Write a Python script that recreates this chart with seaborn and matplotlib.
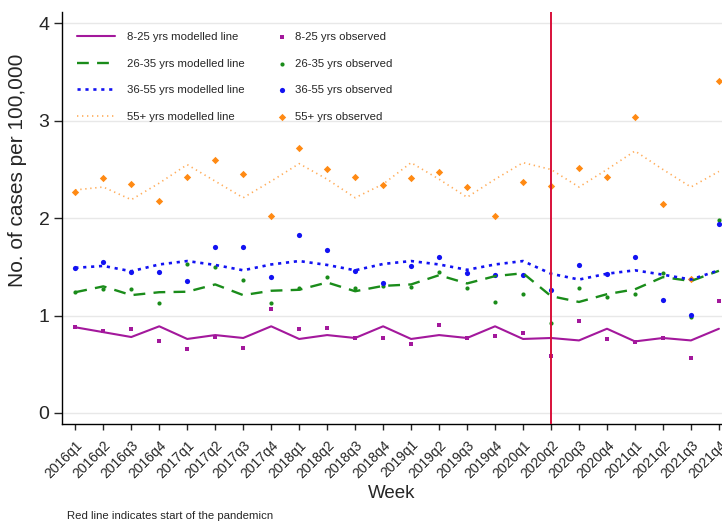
import matplotlib
matplotlib.use('Agg')
import matplotlib.pyplot as plt
import seaborn as sns
import numpy as np
import pandas as pd

quarters = ['2016q1', '2016q2', '2016q3', '2016q4', '2017q1', '2017q2', '2017q3', '2017q4',
            '2018q1', '2018q2', '2018q3', '2018q4', '2019q1', '2019q2', '2019q3', '2019q4',
            '2020q1', '2020q2', '2020q3', '2020q4', '2021q1', '2021q2', '2021q3', '2021q4']

groups = ['8-25 yrs', '26-35 yrs', '36-55 yrs', '55+ yrs']

# modelled lines
mod_8_25 = [0.88, 0.83, 0.78, 0.89, 0.76, 0.80, 0.77, 0.89, 0.76, 0.80, 0.77, 0.89,
            0.76, 0.80, 0.77, 0.89, 0.76, 0.77, 0.745, 0.865, 0.735, 0.77, 0.745, 0.865]
mod_26_35 = [1.24, 1.30, 1.21, 1.24, 1.245, 1.32, 1.21, 1.255, 1.265, 1.34, 1.25, 1.305,
             1.32, 1.415, 1.33, 1.405, 1.435, 1.20, 1.14, 1.22, 1.27, 1.395, 1.355, 1.46]
mod_36_55 = [1.49, 1.51, 1.455, 1.525, 1.56, 1.52, 1.465, 1.525, 1.56, 1.52, 1.465, 1.53,
             1.56, 1.525, 1.47, 1.525, 1.56, 1.43, 1.37, 1.43, 1.465, 1.42, 1.37, 1.465]
mod_55 = [2.29, 2.32, 2.19, 2.36, 2.55, 2.38, 2.21, 2.38, 2.56, 2.40, 2.21, 2.35,
          2.57, 2.40, 2.215, 2.40, 2.57, 2.50, 2.32, 2.50, 2.69, 2.50, 2.32, 2.48]

# observed points
obs_8_25 = [0.88, 0.84, 0.86, 0.74, 0.66, 0.78, 0.67, 1.07, 0.86, 0.875, 0.77, 0.77,
            0.71, 0.905, 0.77, 0.79, 0.82, 0.59, 0.94, 0.76, 0.73, 0.77, 0.56, 1.15]
obs_26_35 = [1.24, 1.275, 1.275, 1.125, 1.53, 1.50, 1.37, 1.125, 1.285, 1.40, 1.285, 1.30,
             1.29, 1.45, 1.285, 1.14, 1.22, 0.92, 1.28, 1.19, 1.22, 1.44, 0.99, 1.985]
obs_36_55 = [1.49, 1.55, 1.45, 1.446, 1.357, 1.70, 1.70, 1.395, 1.825, 1.67, 1.455, 1.33,
             1.505, 1.60, 1.44, 1.415, 1.415, 1.26, 1.52, 1.43, 1.605, 1.155, 1.01, 1.945]
obs_55 = [2.27, 2.41, 2.355, 2.175, 2.42, 2.595, 2.455, 2.02, 2.72, 2.505, 2.42, 2.34,
          2.415, 2.47, 2.32, 2.025, 2.37, 2.335, 2.52, 2.42, 3.04, 2.15, 1.375, 3.41]

pandemic_start = '2020q2'

colors = ['#a3189c', '#1a8c1a', '#1212f2', '#ff8a14']
mod_all = [mod_8_25, mod_26_35, mod_36_55, mod_55]
obs_all = [obs_8_25, obs_26_35, obs_36_55, obs_55]

rows = []
for g, m, o in zip(groups, mod_all, obs_all):
    for i, q in enumerate(quarters):
        rows.append({'group': g, 'idx': i, 'quarter': q, 'modelled': m[i], 'observed': o[i]})
df = pd.DataFrame(rows)

sns.set_style('white')
plt.rcParams['font.family'] = ['Liberation Sans', 'DejaVu Sans']

W, H = 722, 525
fig = plt.figure(figsize=(W / 100, H / 100), dpi=100)
ax = fig.add_axes([62 / W, 1 - 424 / H, 660 / W, (424 - 11.7) / H])

line_styles = [
    dict(linestyle='-', linewidth=1.5),
    dict(linestyle=(0, (5, 3.5)), linewidth=1.7),
    dict(linestyle=(0, (1.2, 1.8)), linewidth=1.9),
    dict(linestyle=(0, (0.8, 2.2)), linewidth=1.2, alpha=0.7),
]
marker_styles = [
    dict(marker='s', s=5),
    dict(marker='o', s=9),
    dict(marker='o', s=14),
    dict(marker='D', s=14),
]

for g, c, ls in zip(groups, colors, line_styles):
    sub = df[df['group'] == g]
    sns.lineplot(data=sub, x='idx', y='modelled', color=c, ax=ax,
                 label=f'{g} modelled line', **ls)
for g, c, ms in zip(groups, colors, marker_styles):
    sub = df[df['group'] == g]
    sns.scatterplot(data=sub, x='idx', y='observed', color=c, ax=ax, linewidth=0,
                    label=f'{g} observed', **ms)

ax.axvline(quarters.index(pandemic_start), color='#d8103a', linewidth=1.4, zorder=5)

ax.set_xlim(-0.475, 23.11)
ax.set_ylim(-0.113, 4.12)
ax.set_yticks([0, 1, 2, 3, 4])
ax.set_xticks(range(len(quarters)))
ax.set_xticklabels(quarters, rotation=45, ha='right', rotation_mode='anchor', fontsize=10)
ax.tick_params(axis='y', labelsize=14, length=6, width=1, left=True, direction='out', pad=3)
ax.tick_params(axis='x', length=4, width=1, bottom=True, direction='out', pad=6)
ax.yaxis.grid(True, color='#e8e8e8', linewidth=1)
ax.set_axisbelow(True)
for sp in ['top', 'right']:
    ax.spines[sp].set_visible(False)
for sp in ['left', 'bottom']:
    ax.spines[sp].set_color('black')
    ax.spines[sp].set_linewidth(1)

ax.set_xlabel('Week', fontsize=13.5)
ax.xaxis.set_label_coords(0.5, -0.148)
ax.set_ylabel('No. of cases per 100,000', fontsize=15)
ax.yaxis.set_label_coords(-0.053, 0.616)

handles, labels = ax.get_legend_handles_labels()
leg1 = ax.legend(handles[:4], labels[:4], loc='upper left',
                 bbox_to_anchor=(77 / W, 1 - 32 / H), bbox_transform=fig.transFigure,
                 frameon=False, fontsize=8.2, handlelength=3.35, handletextpad=1.0,
                 labelspacing=1.45, borderpad=0, borderaxespad=0)
ax.add_artist(leg1)
ax.legend(handles[4:], labels[4:], loc='upper left',
          bbox_to_anchor=(276 / W, 1 - 32 / H), bbox_transform=fig.transFigure,
          frameon=False, fontsize=8.2, handlelength=1.0, handletextpad=0.64,
          labelspacing=1.45, borderpad=0, borderaxespad=0)

fig.text(66.7 / W, 1 - 516 / H, 'Red line indicates start of the pandemicn',
         fontsize=8.2, va='center')

fig.savefig('out.png', dpi=100)
